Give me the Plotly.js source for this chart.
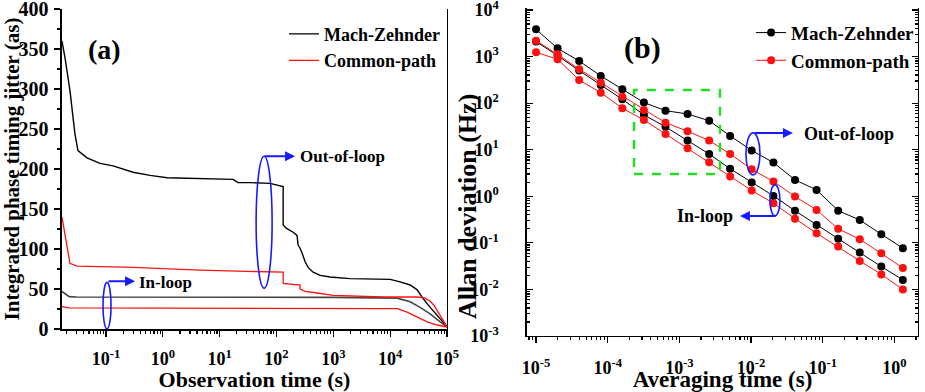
<!DOCTYPE html>
<html>
<head>
<meta charset="utf-8">
<script src="https://cdn.plot.ly/plotly-3.0.1.min.js"></script>
<style>
  html, body { margin: 0; padding: 0; background: #fff; }
  #chart { width: 925px; height: 392px; }
</style>
</head>
<body>
<div id="chart"></div>
<script>
// ---------- Panel (a): integrated phase timing jitter vs observation time ----------
const mzOutTime = [0.0168, 0.019, 0.0232, 0.0284, 0.0321, 0.0463, 0.0784, 0.133, 0.299, 0.595, 1.19, 4.52, 17.2, 21.1, 34.3, 77, 131, 131, 148, 196, 230, 240, 260, 282, 294, 319, 360, 441, 586, 879, 1980, 10000, 15000, 22500, 29900, 38100, 50600, 67200, 85700, 100000];
const mzOutJitter = [360, 339, 298, 244, 223, 214, 207, 204, 196, 192, 189, 188, 187, 183, 183, 182, 178, 130, 126, 121, 117, 105, 101, 95, 90, 84, 77, 71, 67, 65, 63, 62, 59, 55, 49, 38, 27, 17, 8, 3];

const mzInTime = [0.0168, 0.0225, 0.03, 1, 100, 1000, 13300, 22500, 33700, 50600, 75900, 100000];
const mzInJitter = [47, 40.5, 40, 40, 40, 39.5, 38.6, 34, 27, 19, 9, 3];

const cpOutTime = [0.0168, 0.0198, 0.0232, 0.0308, 0.299, 4.52, 131, 131, 260, 260, 319, 519, 991, 7530, 29900, 40000, 50600, 60000, 75000, 90000, 100000];
const cpOutJitter = [140, 111, 82, 78.5, 77, 73.5, 71, 57, 55, 50, 47, 45, 42, 40, 40, 39, 35, 29, 18, 9, 3];

const cpInTime = [0.0168, 0.0225, 1, 100, 1000, 13300, 19900, 29900, 44800, 67200, 100000];
const cpInJitter = [28, 26.5, 26, 26, 26, 25.5, 21, 15, 9, 5, 2.5];

const obsTickVals = [0.1, 1, 10, 100, 1000, 10000, 100000];
const obsTickText = ['10<sup>-1</sup>', '10<sup>0</sup>', '10<sup>1</sup>', '10<sup>2</sup>', '10<sup>3</sup>', '10<sup>4</sup>', '10<sup>5</sup>'];

// ---------- Panel (b): Allan deviation vs averaging time ----------
const tau = [1e-5, 2e-5, 4e-5, 8e-5, 1.6e-4, 3.2e-4, 6.4e-4, 1.3e-3, 2.6e-3, 5.1e-3, 0.0102, 0.0205, 0.041, 0.082, 0.164, 0.328, 0.655, 1.31];
const adevMZOut = [3850, 1500, 805, 384, 199, 103, 69, 58.5, 42, 19.8, 9.6, 5.3, 2.25, 1.37, 0.49, 0.31, 0.153, 0.077];
const adevMZIn = [2100, 1050, 500, 246, 121, 56, 31, 15.7, 8.1, 3.9, 1.97, 1.02, 0.49, 0.243, 0.122, 0.062, 0.031, 0.016];
const adevCPOut = [2190, 1120, 533, 275, 138, 71, 38, 25, 15.7, 8.1, 3.8, 2.07, 0.99, 0.51, 0.20, 0.12, 0.060, 0.029];
const adevCPIn = [1240, 873, 315, 168, 78, 43.5, 21.8, 10.7, 5.4, 2.65, 1.33, 0.71, 0.33, 0.161, 0.083, 0.041, 0.021, 0.010];

const tauTickVals = [1e-5, 1e-4, 1e-3, 1e-2, 1e-1, 1];
const tauTickText = ['10<sup>-5</sup>', '10<sup>-4</sup>', '10<sup>-3</sup>', '10<sup>-2</sup>', '10<sup>-1</sup>', '10<sup>0</sup>'];
const adevTickVals = [1e-3, 1e-2, 1e-1, 1, 10, 100, 1000, 10000];
const adevTickText = ['10<sup>-3</sup>', '10<sup>-2</sup>', '10<sup>-1</sup>', '10<sup>0</sup>', '10<sup>1</sup>', '10<sup>2</sup>', '10<sup>3</sup>', '10<sup>4</sup>'];

// ---------- styling ----------
const SERIF = 'Liberation Serif, Times New Roman, serif';
const BLACK = '#000000';
const RED = '#ff1010';
const BLUE = '#1a1aff';
const font = (size, color) => ({ family: SERIF, size: size, color: color || BLACK, weight: 'bold' });

const traces = [
  // panel (a)
  { x: mzOutTime, y: mzOutJitter, xaxis: 'x', yaxis: 'y', mode: 'lines', name: 'Mach-Zehnder',
    line: { color: BLACK, width: 1.4 }, legend: 'legend', showlegend: true },
  { x: mzInTime, y: mzInJitter, xaxis: 'x', yaxis: 'y', mode: 'lines', name: 'Mach-Zehnder',
    line: { color: '#444', width: 1.6 }, legend: 'legend', showlegend: false },
  { x: cpOutTime, y: cpOutJitter, xaxis: 'x', yaxis: 'y', mode: 'lines', name: 'Common-path',
    line: { color: RED, width: 1.3 }, legend: 'legend', showlegend: true },
  { x: cpInTime, y: cpInJitter, xaxis: 'x', yaxis: 'y', mode: 'lines', name: 'Common-path',
    line: { color: RED, width: 1.3 }, legend: 'legend', showlegend: false },
  // panel (b)
  { x: tau, y: adevMZOut, xaxis: 'x2', yaxis: 'y2', mode: 'lines+markers', name: 'Mach-Zehnder',
    line: { color: BLACK, width: 1 }, marker: { color: BLACK, size: 8 }, legend: 'legend2', showlegend: true },
  { x: tau, y: adevMZIn, xaxis: 'x2', yaxis: 'y2', mode: 'lines+markers', name: 'Mach-Zehnder',
    line: { color: BLACK, width: 1 }, marker: { color: BLACK, size: 8 }, legend: 'legend2', showlegend: false },
  { x: tau, y: adevCPOut, xaxis: 'x2', yaxis: 'y2', mode: 'lines+markers', name: 'Common-path',
    line: { color: RED, width: 1 }, marker: { color: RED, size: 8 }, legend: 'legend2', showlegend: true },
  { x: tau, y: adevCPIn, xaxis: 'x2', yaxis: 'y2', mode: 'lines+markers', name: 'Common-path',
    line: { color: RED, width: 1 }, marker: { color: RED, size: 8 }, legend: 'legend2', showlegend: false }
];

const axisBase = {
  showline: true, linecolor: BLACK, linewidth: 1.5,
  showgrid: false, zeroline: false,
  tickcolor: BLACK, tickwidth: 1.2,
  ticklabeloverflow: 'allow'
};

const layout = {
  width: 925, height: 392,
  margin: { l: 0, r: 0, t: 0, b: 0 },
  paper_bgcolor: '#fff', plot_bgcolor: '#fff',
  font: font(16),
  xaxis: Object.assign({}, axisBase, {
    type: 'log', domain: [0.0670, 0.4832], range: [-1.775, 5], anchor: 'y',
    tickvals: obsTickVals, ticktext: obsTickText, tickfont: font(18),
    ticks: 'outside', ticklen: 6, ticklabelstandoff: 7,
    minor: { ticks: 'outside', ticklen: 3, dtick: 'D1', tickcolor: BLACK },
    title: { text: 'Observation time (s)', font: font(22), standoff: 6 }
  }),
  yaxis: Object.assign({}, axisBase, {
    domain: [0.1607, 0.9770], range: [0, 400], anchor: 'x',
    dtick: 50, tick0: 0, tickfont: font(20), mirror: true,
    ticks: 'outside', ticklen: 6, ticklabelstandoff: 2,
    minor: { ticks: 'outside', ticklen: 3, dtick: 25, tickcolor: BLACK },
    title: { text: 'Integrated phase timing jitter (as)', font: font(21), standoff: 1 }
  }),
  xaxis2: Object.assign({}, axisBase, {
    type: 'log', domain: [0.5697, 0.9924], range: [-5.126, 0.328], anchor: 'y2',
    tickvals: tauTickVals, ticktext: tauTickText, tickfont: font(18),
    ticks: 'outside', ticklen: 6, ticklabelstandoff: 9,
    minor: { ticks: 'outside', ticklen: 3, dtick: 'D1', tickcolor: BLACK },
    title: { text: 'Averaging time (s)', font: font(23), standoff: 22 }
  }),
  yaxis2: Object.assign({}, axisBase, {
    type: 'log', domain: [0.1429, 0.9796], range: [-3, 4.043], anchor: 'x2',
    tickvals: adevTickVals, ticktext: adevTickText, tickfont: font(18), mirror: 'ticks',
    ticks: 'inside', ticklen: 6, ticklabelstandoff: 23,
    minor: { ticks: 'inside', ticklen: 3, dtick: 'D1', tickcolor: BLACK }
  }),
  legend: {
    x: 0.307, y: 0.96, xanchor: 'left', yanchor: 'top',
    font: font(18), bgcolor: 'rgba(0,0,0,0)', borderwidth: 0, tracegroupgap: 0
  },
  legend2: {
    x: 0.812, y: 0.965, xanchor: 'left', yanchor: 'top',
    font: font(19), bgcolor: 'rgba(0,0,0,0)', borderwidth: 0, tracegroupgap: 0
  },
  shapes: [
    // ellipses marking the out-of-loop and in-loop curve groups
    { type: 'circle', xref: 'x', yref: 'y', x0: 43.8, x1: 83.8, y0: 51, y1: 216,
      line: { color: BLUE, width: 1.6 } },
    { type: 'circle', xref: 'x', yref: 'y', x0: 0.0885, x1: 0.1225, y0: 0, y1: 58.3,
      line: { color: BLUE, width: 1.6 } },
    { type: 'circle', xref: 'x2', yref: 'y2', x0: 0.00849, x1: 0.0133, y0: 2.88, y1: 22.96,
      line: { color: BLUE, width: 1.6 } },
    { type: 'circle', xref: 'x2', yref: 'y2', x0: 0.01837, x1: 0.02529, y0: 0.379, y1: 1.758,
      line: { color: BLUE, width: 1.6 } },
    // dashed box around the mid-range bump of the Mach-Zehnder out-of-loop curve
    { type: 'rect', xref: 'x2', yref: 'y2', x0: 2.328e-4, x1: 3.681e-3, y0: 3.027, y1: 191.9,
      line: { color: '#22dd22', width: 2.5, dash: 'dash' } }
  ],
  annotations: [
    // vertical title of panel (b), placed tight against its tick labels
    { xref: 'paper', yref: 'paper', x: 0.506, y: 0.472, text: 'Allan deviation (Hz)', textangle: -90,
      showarrow: false, font: font(26) },

    { xref: 'x', yref: 'y', x: -1.018, y: 349, text: '(a)', showarrow: false, font: font(28) },
    { xref: 'x2', yref: 'y2', x: -3.52, y: 3.185, text: '(b)', showarrow: false, font: font(30) },

    { xref: 'x', yref: 'y', x: 2.327, y: 216, text: '', showarrow: true, ax: -32, ay: 0,
      arrowhead: 2, arrowsize: 1, arrowwidth: 2, arrowcolor: BLUE },
    { xref: 'x', yref: 'y', x: 2.38, y: 216, xanchor: 'left', text: 'Out-of-loop', showarrow: false, font: font(17) },

    { xref: 'x', yref: 'y', x: -0.489, y: 59.6, text: '', showarrow: true, ax: -28, ay: 0,
      arrowhead: 2, arrowsize: 1, arrowwidth: 2, arrowcolor: BLUE },
    { xref: 'x', yref: 'y', x: -0.454, y: 58.3, xanchor: 'left', text: 'In-loop', showarrow: false, font: font(17) },

    { xref: 'x2', yref: 'y2', x: -1.416, y: 1.361, text: '', showarrow: true, ax: -40, ay: 0,
      arrowhead: 2, arrowsize: 1, arrowwidth: 2, arrowcolor: BLUE },
    { xref: 'x2', yref: 'y2', x: -1.29, y: 1.339, xanchor: 'left', text: 'Out-of-loop', showarrow: false, font: font(18) },

    { xref: 'x2', yref: 'y2', x: -2.155, y: -0.421, text: '', showarrow: true, ax: 37, ay: 0,
      arrowhead: 2, arrowsize: 1, arrowwidth: 2, arrowcolor: BLUE },
    { xref: 'x2', yref: 'y2', x: -2.225, y: -0.421, xanchor: 'right', text: 'In-loop', showarrow: false, font: font(18) }
  ]
};

Plotly.newPlot('chart', traces, layout, { staticPlot: true, displayModeBar: false });
</script>
</body>
</html>
